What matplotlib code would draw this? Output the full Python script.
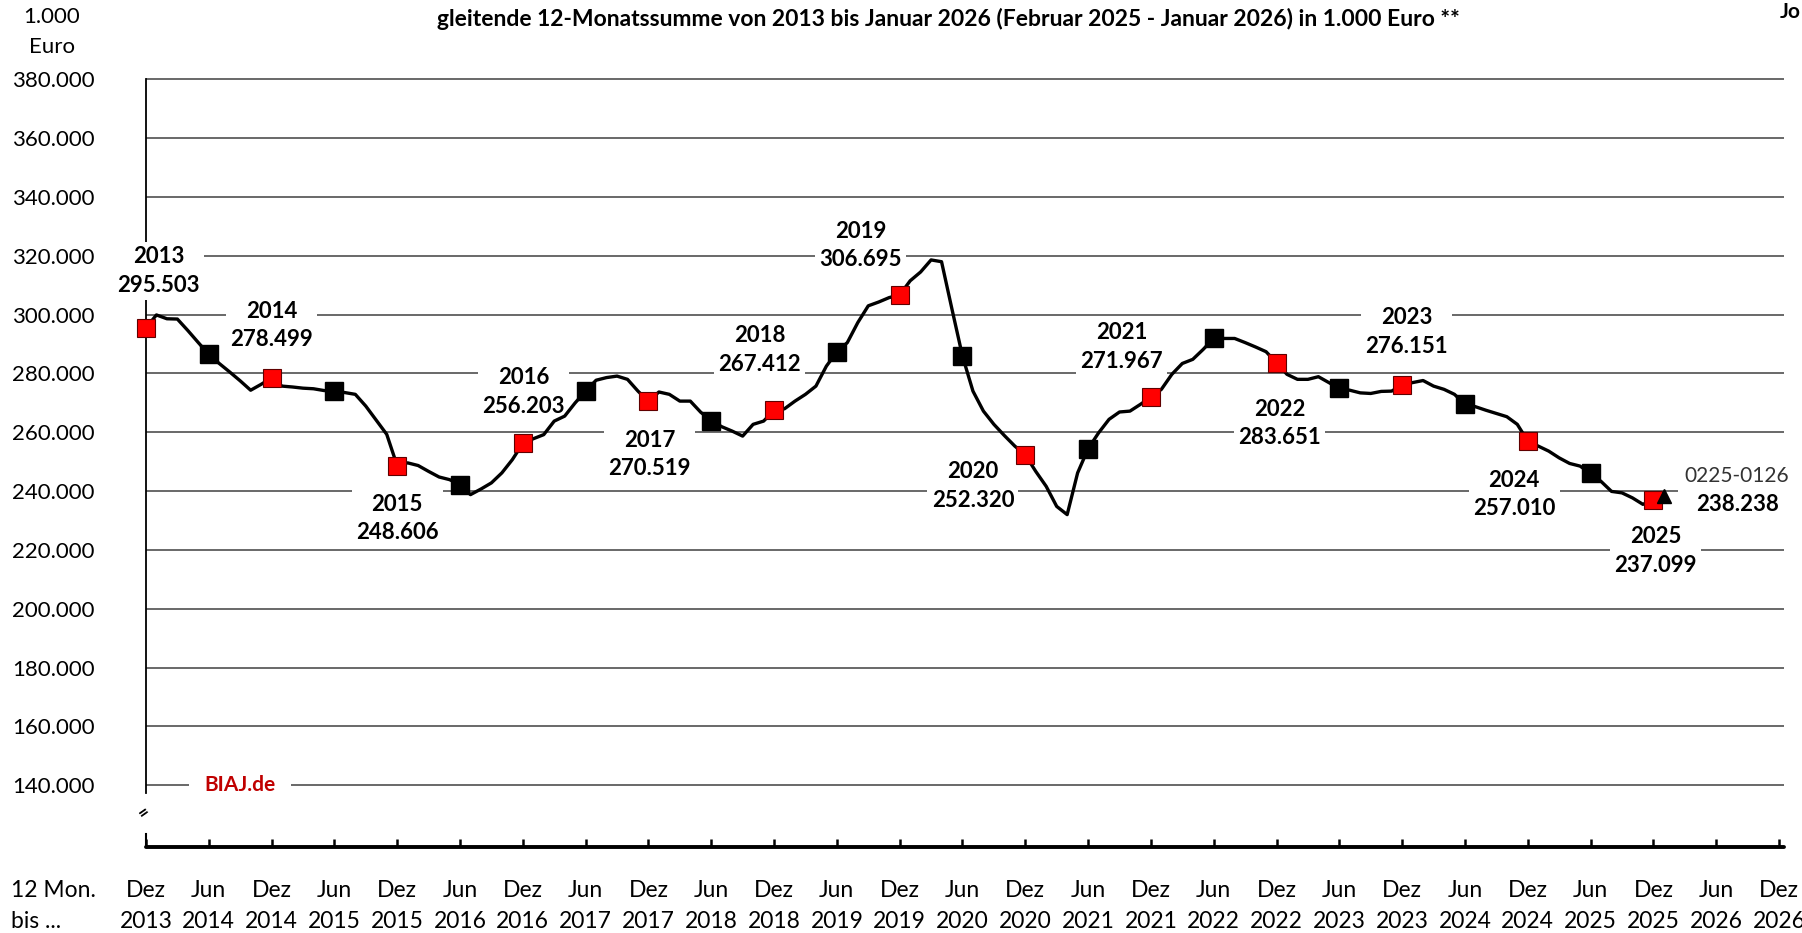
import numpy as np
import matplotlib.pyplot as plt

plt.rcParams['font.family'] = ['Lato', 'DejaVu Sans']

# gleitende 12-Monatssumme in 1.000 Euro, Dez 2013 ... Jan 2026 (monatlich)
werte = [
    295503, 299900, 298600, 298500, 294600, 290500, 286500, 283400, 280500, 277500, 274300, 276300,  # Dez13-Nov14
    278499, 275700, 275400, 275000, 274800, 274200, 274000, 273500, 272900, 268900, 264100, 259300,  # Dez14-Nov15
    248606, 249600, 248700, 246700, 244800, 243900, 242200, 238800, 240700, 242800, 246200, 250700,  # Dez15-Nov16
    256203, 257800, 259200, 263800, 265500, 270000, 274000, 277700, 278600, 279100, 278000, 274000,  # Dez16-Nov17
    270519, 273700, 272900, 270600, 270600, 266800, 264000, 261900, 260400, 258700, 262700, 263800,  # Dez17-Nov18
    267412, 268000, 270600, 272900, 275700, 282500, 287300, 290500, 297300, 303000, 304300, 305800,  # Dez18-Nov19
    306695, 311500, 314500, 318600, 318000, 301800, 285900, 274000, 267200, 262700, 258900, 255300,  # Dez19-Nov20
    252320, 246700, 241600, 234800, 232000, 246200, 254400, 259800, 264400, 266900, 267200, 269500,  # Dez20-Nov21
    271967, 274600, 279700, 283400, 284800, 288200, 292000, 291900, 291900, 290500, 289000, 287400,  # Dez21-Nov22
    283651, 279700, 278000, 278000, 278900, 276900, 274900, 274300, 273400, 273200, 273900, 274000,  # Dez22-Nov23
    276151, 276900, 277600, 275700, 274600, 272900, 269500, 268700, 267500, 266400, 265300, 262700,  # Dez23-Nov24
    257010, 255300, 253600, 251300, 249400, 248500, 246000, 243300, 239900, 239400, 237700, 235500,  # Dez24-Nov25
    237099, 238238,  # Dez25, Jan26
]
jahre = ['2013', '2014', '2015', '2016', '2017', '2018', '2019',
         '2020', '2021', '2022', '2023', '2024', '2025']
letzter_zeitraum = '0225-0126'

# Lage der Jahres-Beschriftungen (Monat ab Dez 2013, Wert)
label_x = [1.2, 12.0, 24.0, 36.1, 48.1, 58.6, 68.3, 79.0, 93.2, 108.3, 120.4, 130.7, 144.2]
label_y = [314900, 296300, 230700, 273800, 252400, 287900, 323500,
           241700, 289000, 263000, 294100, 238800, 219600]

tick_monat = ['Dez', 'Jun'] * 13 + ['Dez']
tick_jahr = ['2013'] + [str(j) for j in range(2014, 2027) for _ in range(2)]


def de_zahl(v):
    return f'{v:,.0f}'.replace(',', '.')


x = np.arange(len(werte))
w = np.array(werte)

fig = plt.figure(figsize=(18.02, 9.33), dpi=100)
ax = fig.add_axes([0.0810, 0.0922, 0.90885, 0.8259])

ax.plot(x, w, color='black', lw=2.4, zorder=4, solid_joinstyle='round')

dez = x[:-1][x[:-1] % 12 == 0]
jun = x[x % 12 == 6]
ax.plot(dez, w[dez], ls='none', marker='s', ms=12.5, mfc='#ff0000', mec='#600000', mew=0.8,
        zorder=5, clip_on=False)
ax.plot(jun, w[jun], ls='none', marker='s', ms=12.5, mfc='black', mec='black', zorder=5)
ax.plot(x[-1:], w[-1:], ls='none', marker='^', ms=10, color='black', zorder=6)

box = dict(facecolor='white', edgecolor='none', pad=3)
for i, j in enumerate(jahre):
    ax.text(label_x[i], label_y[i], j + '\n' + de_zahl(w[dez[i]]), ha='center', va='center',
            fontsize=16, fontweight='bold', linespacing=1.45, bbox=box, zorder=3)

ax.text(152.0, 245000, letzter_zeitraum, ha='center', va='center', fontsize=15,
        color='#333333', bbox=dict(facecolor='white', edgecolor='none', pad=5), zorder=3)
ax.text(152.0, 235400, de_zahl(w[-1]), ha='center', va='center', fontsize=16,
        fontweight='bold', bbox=dict(facecolor='white', edgecolor='none', pad=5), zorder=3)

ax.text(9.0, 140000, 'BIAJ.de', ha='center', va='center', fontsize=15, fontweight='bold',
        color='#c00000', bbox=dict(facecolor='white', edgecolor='none', pad=11), zorder=3)

ax.set_xlim(0, 156.45)
ax.set_ylim(119000, 381000)
ax.set_yticks(range(140000, 380001, 20000))
ax.set_yticklabels([de_zahl(v) for v in range(140000, 380001, 20000)])
ax.set_xticks(range(0, 157, 6))
ax.set_xticklabels([m + '\n' + j for m, j in zip(tick_monat, tick_jahr)])

ax.set_axisbelow(True)
ax.yaxis.grid(True, color='#404040', lw=1.1)
ax.tick_params(axis='y', length=0, pad=37, labelsize=16)
ax.tick_params(axis='x', direction='in', length=6, width=1.8, pad=24, labelsize=16.5)
for lbl in ax.get_xticklabels():
    lbl.set_linespacing(1.55)

for s in ['top', 'right']:
    ax.spines[s].set_visible(False)
ax.spines['left'].set_bounds(137500, 380000)
ax.spines['left'].set_linewidth(1.3)
ax.spines['bottom'].set_linewidth(2.8)
ax.spines['bottom'].set_capstyle('round')

# unterbrochene y-Achse
ax.plot([0, 0], [119000, 123300], color='black', lw=1.5, clip_on=False, zorder=6)
ax.text(-0.2, 130800, '=', rotation=35, fontsize=13, fontweight='bold', ha='center', va='center')

fig.text(948 / 1802, 1 - 19 / 933,
         'gleitende 12-Monatssumme von 2013 bis Januar 2026 (Februar 2025 - Januar 2026) in 1.000 Euro **',
         ha='center', va='center', fontsize=16.5, fontweight='bold')
fig.text(52 / 1802, 1 - 32 / 933, '1.000\nEuro', ha='center', va='center', fontsize=16, linespacing=1.6)
fig.text(11 / 1802, 1 - 906 / 933, '12 Mon.\nbis ...', ha='left', va='center', fontsize=16.5, linespacing=1.55)
fig.text(1801 / 1802, 1 - 12 / 933, 'Jo', ha='right', va='center', fontsize=15, fontweight='bold')

fig.savefig('out.png', dpi=100)
